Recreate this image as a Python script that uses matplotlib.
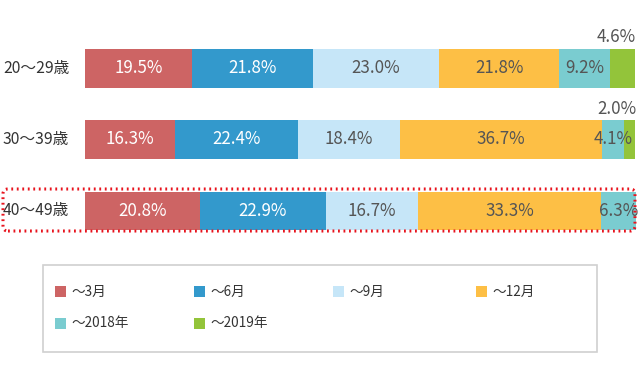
import matplotlib
matplotlib.use('Agg')
import matplotlib.pyplot as plt
from matplotlib.patches import FancyBboxPatch, Rectangle
from matplotlib.transforms import IdentityTransform
import numpy as np

plt.rcParams['font.family'] = ['Noto Sans CJK JP', 'DejaVu Sans']

ages = ['20～29歳', '30～39歳', '40～49歳']
periods = ['～3月', '～6月', '～9月', '～12月', '～2018年', '～2019年']
values = np.array([
    [19.5, 21.8, 23.0, 21.8, 9.2, 4.6],
    [16.3, 22.4, 18.4, 36.7, 4.1, 2.0],
    [20.8, 22.9, 16.7, 33.3, 6.3, 0.0],
])
colors = ['#CD6464', '#3399CC', '#C6E6F8', '#FDBF45', '#7ACCD0', '#93C43A']
text_colors = ['white', 'white', '#555555', '#555555', '#555555', '#555555']

W, H = 640, 381
fig = plt.figure(figsize=(W / 100, H / 100), dpi=100)

# bar area: x 85..636 px, row centres at 68 + 71.5*i px
x0, x1 = 85, 636
c0, step = 68, 71.5
ax = fig.add_axes([x0 / W, 0, (x1 - x0) / W, 1])
ax.set_xlim(0, 100)
ax.set_ylim((H - c0) / step, -c0 / step)
ax.axis('off')

bar_h = 39 / step
ypos = np.arange(len(ages))
left = np.zeros(len(ages))
for j, per in enumerate(periods):
    v = values[:, j]
    ax.barh(ypos, v, left=left, height=bar_h, color=colors[j], lw=0)
    for i in range(len(ages)):
        if v[i] <= 0:
            continue
        if j == len(periods) - 1:
            ax.text(100, ypos[i] - bar_h / 2 - 0.03, f'{v[i]:.1f}%', ha='right',
                    va='bottom', fontsize=12.2, color='#555555')
        else:
            ax.text(left[i] + v[i] / 2, ypos[i], f'{v[i]:.1f}%', ha='center',
                    va='center', fontsize=12.2, color=text_colors[j])
    left += v

for i, a in enumerate(ages):
    fig.text(3 / W, 1 - (c0 + step * i) / H, a, ha='left', va='center',
             fontsize=11.3, color='#333333')

# highlight box around the 40-49 row (pixel coords, origin bottom-left)
hl = FancyBboxPatch((3, H - 231), 632, 42, boxstyle='round,pad=0,rounding_size=5',
                    transform=IdentityTransform(), fill=False, ec='#E8141E',
                    lw=2.2, ls=(0, (0.6, 1.2)), zorder=10)
fig.add_artist(hl)

# legend box
fig.add_artist(Rectangle((43, H - 352), 554, 87, transform=IdentityTransform(),
                         fill=False, ec='#D0D0D0', lw=1.2))
leg_x = [55, 194, 333, 476]
leg_y = [291.5, 323]
for k, per in enumerate(periods):
    lx = leg_x[k % 4]
    ly = leg_y[k // 4]
    fig.add_artist(Rectangle((lx, H - ly - 5.5), 11, 11, transform=IdentityTransform(),
                             fc=colors[k], ec='none'))
    fig.text((lx + 16) / W, 1 - ly / H, per, ha='left', va='center',
             fontsize=9.8, color='#333333')

fig.savefig('out.png', dpi=100)
